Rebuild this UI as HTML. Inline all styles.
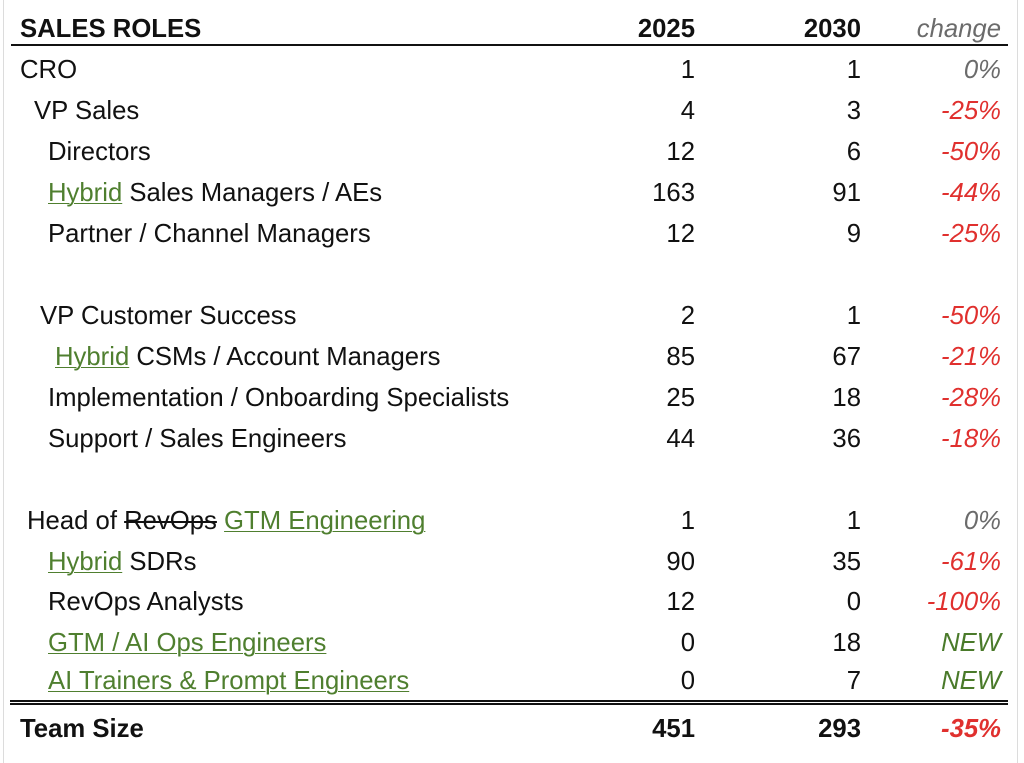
<!DOCTYPE html>
<html>
<head>
<meta charset="utf-8">
<style>
  html, body { margin:0; padding:0; }
  body { width:1024px; height:763px; background:#fff; position:relative; overflow:hidden;
         font-family:"Liberation Sans", Arial, sans-serif; font-size:25.7px; color:#111; }
  .vl { position:absolute; top:0; width:1px; height:763px; background:#dcdcdc; }
  .r { position:absolute; left:0; width:1024px; height:30px; line-height:30px; white-space:nowrap; }
  .r span.l { position:absolute; }
  .r span.a { position:absolute; right:329px; }
  .r span.b { position:absolute; right:163px; }
  .r span.c { position:absolute; right:23px; font-style:italic; }
  .red { color:#e0302e; }
  .gray { color:#6b6b6b; }
  .grn { color:#4a7a2a; }
  .u { color:#4f7f2f; text-decoration:underline; text-decoration-thickness:1px; text-underline-offset:2px; }
  .s { text-decoration:line-through; text-decoration-thickness:1.5px; }
  .bold { font-weight:bold; }
  .line1 { position:absolute; left:11px; width:997px; top:44px; height:2px; background:#111; }
  .line2 { position:absolute; left:10px; width:998px; top:700px; height:0; border-top:5px double #111; }
</style>
</head>
<body>
<div class="vl" style="left:3px"></div>
<div class="vl" style="left:1017px"></div>

<div class="r bold" style="top:14px"><span class="l" style="left:20px">SALES ROLES</span><span class="a">2025</span><span class="b">2030</span><span class="c gray" style="font-weight:normal">change</span></div>
<div class="line1"></div>

<div class="r" style="top:55px"><span class="l" style="left:20px">CRO</span><span class="a">1</span><span class="b">1</span><span class="c gray">0%</span></div>
<div class="r" style="top:96px"><span class="l" style="left:34px">VP Sales</span><span class="a">4</span><span class="b">3</span><span class="c red">-25%</span></div>
<div class="r" style="top:137px"><span class="l" style="left:48px">Directors</span><span class="a">12</span><span class="b">6</span><span class="c red">-50%</span></div>
<div class="r" style="top:178px"><span class="l" style="left:48px"><span class="u">Hybrid</span> Sales Managers / AEs</span><span class="a">163</span><span class="b">91</span><span class="c red">-44%</span></div>
<div class="r" style="top:219px"><span class="l" style="left:48px">Partner / Channel Managers</span><span class="a">12</span><span class="b">9</span><span class="c red">-25%</span></div>

<div class="r" style="top:301px"><span class="l" style="left:40px">VP Customer Success</span><span class="a">2</span><span class="b">1</span><span class="c red">-50%</span></div>
<div class="r" style="top:342px"><span class="l" style="left:55px"><span class="u">Hybrid</span> CSMs / Account Managers</span><span class="a">85</span><span class="b">67</span><span class="c red">-21%</span></div>
<div class="r" style="top:383px"><span class="l" style="left:48px">Implementation / Onboarding Specialists</span><span class="a">25</span><span class="b">18</span><span class="c red">-28%</span></div>
<div class="r" style="top:424px"><span class="l" style="left:48px">Support / Sales Engineers</span><span class="a">44</span><span class="b">36</span><span class="c red">-18%</span></div>

<div class="r" style="top:506px"><span class="l" style="left:27px">Head of <span class="s">RevOps</span> <span class="u">GTM Engineering</span></span><span class="a">1</span><span class="b">1</span><span class="c gray">0%</span></div>
<div class="r" style="top:547px"><span class="l" style="left:48px"><span class="u">Hybrid</span> SDRs</span><span class="a">90</span><span class="b">35</span><span class="c red">-61%</span></div>
<div class="r" style="top:587px"><span class="l" style="left:48px">RevOps Analysts</span><span class="a">12</span><span class="b">0</span><span class="c red">-100%</span></div>
<div class="r" style="top:628px"><span class="l" style="left:48px"><span class="u">GTM / AI Ops Engineers</span></span><span class="a">0</span><span class="b">18</span><span class="c grn">NEW</span></div>
<div class="r" style="top:666px"><span class="l" style="left:48px"><span class="u">AI Trainers &amp; Prompt Engineers</span></span><span class="a">0</span><span class="b">7</span><span class="c grn">NEW</span></div>
<div class="line2"></div>

<div class="r bold" style="top:714px"><span class="l" style="left:20px">Team Size</span><span class="a">451</span><span class="b">293</span><span class="c red">-35%</span></div>
</body>
</html>
